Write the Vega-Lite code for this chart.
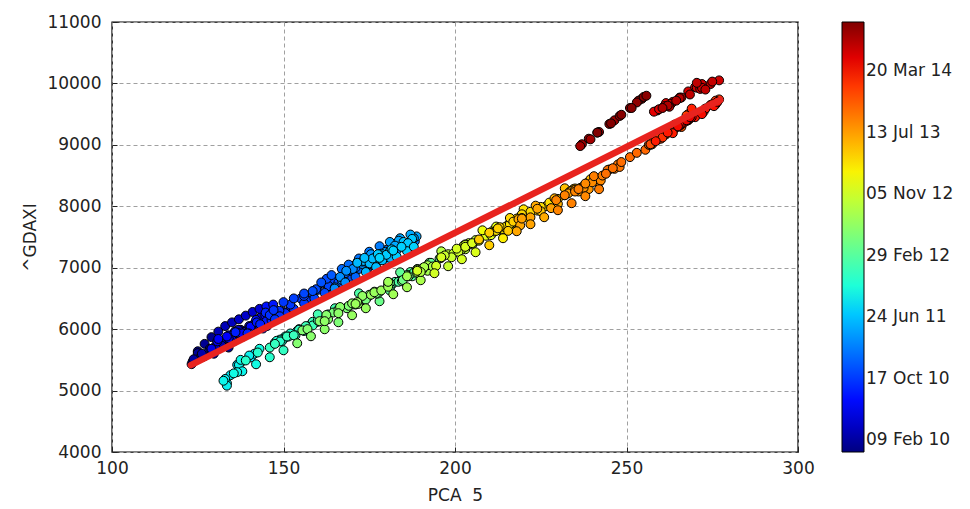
{
  "$schema": "https://vega.github.io/schema/vega-lite/v6.json",
  "width": 686,
  "height": 430,
  "autosize": {"type": "none"},
  "padding": {"left": 112, "top": 22, "right": 172, "bottom": 57},
  "background": "white",
  "config": {
    "font": "DejaVu Sans",
    "view": {"stroke": "black", "strokeWidth": 1.4},
    "axis": {
      "domain": false,
      "grid": true,
      "gridColor": "#a0a0a0",
      "gridDash": [4, 3],
      "gridWidth": 1,
      "ticks": true,
      "tickSize": -5,
      "tickColor": "#222",
      "tickWidth": 1,
      "labelFont": "DejaVu Sans",
      "labelFontSize": 17,
      "labelColor": "#222",
      "titleFont": "DejaVu Sans",
      "titleFontSize": 17,
      "titleFontWeight": "normal",
      "titleColor": "#222",
      "labelOverlap": false,
      "labelFlush": false
    },
    "legend": {
      "orient": "right",
      "offset": 44,
      "padding": 0,
      "direction": "vertical",
      "gradientLength": 430,
      "gradientThickness": 22,
      "gradientStrokeColor": "black",
      "gradientStrokeWidth": 1,
      "labelFont": "DejaVu Sans",
      "labelFontSize": 17,
      "labelColor": "#222",
      "labelOffset": 6,
      "labelOverlap": false
    }
  },
  "layer": [
    {
      "data": {
        "format": {"parse": {"d": "date"}},
        "values": [
          {"d": "2009-12-25", "x": 140.8, "y": 5960}, {"d": "2009-12-29", "x": 137.5, "y": 5990},
          {"d": "2010-01-01", "x": 135.8, "y": 5960}, {"d": "2010-01-05", "x": 141, "y": 6010},
          {"d": "2010-01-08", "x": 142.4, "y": 6040}, {"d": "2010-01-12", "x": 138.5, "y": 5960},
          {"d": "2010-01-15", "x": 134.8, "y": 5880}, {"d": "2010-01-19", "x": 135.5, "y": 5800},
          {"d": "2010-01-22", "x": 134, "y": 5700}, {"d": "2010-01-26", "x": 128.5, "y": 5680},
          {"d": "2010-01-29", "x": 125, "y": 5610}, {"d": "2010-02-02", "x": 126.5, "y": 5550},
          {"d": "2010-02-05", "x": 123.2, "y": 5430}, {"d": "2010-02-09", "x": 123.5, "y": 5470},
          {"d": "2010-02-12", "x": 123.8, "y": 5510}, {"d": "2010-02-16", "x": 127, "y": 5560},
          {"d": "2010-02-19", "x": 129.7, "y": 5600}, {"d": "2010-02-23", "x": 128, "y": 5620},
          {"d": "2010-02-26", "x": 126.2, "y": 5600}, {"d": "2010-03-02", "x": 133, "y": 5780},
          {"d": "2010-03-05", "x": 138.3, "y": 5880}, {"d": "2010-03-09", "x": 134, "y": 5900},
          {"d": "2010-03-12", "x": 136.8, "y": 5990}, {"d": "2010-03-16", "x": 139, "y": 5960},
          {"d": "2010-03-19", "x": 141.8, "y": 6020}, {"d": "2010-03-23", "x": 140, "y": 6050},
          {"d": "2010-03-26", "x": 142.5, "y": 6120}, {"d": "2010-03-30", "x": 146, "y": 6160},
          {"d": "2010-04-02", "x": 150.5, "y": 6230}, {"d": "2010-04-06", "x": 149, "y": 6200},
          {"d": "2010-04-09", "x": 145.7, "y": 6250}, {"d": "2010-04-13", "x": 147.5, "y": 6270},
          {"d": "2010-04-16", "x": 146.4, "y": 6180}, {"d": "2010-04-20", "x": 143.5, "y": 6200},
          {"d": "2010-04-23", "x": 146.8, "y": 6330}, {"d": "2010-04-27", "x": 148, "y": 6170},
          {"d": "2010-04-30", "x": 147.1, "y": 6140}, {"d": "2010-05-04", "x": 139, "y": 5960},
          {"d": "2010-05-07", "x": 130.1, "y": 5720}, {"d": "2010-05-11", "x": 136.5, "y": 5930},
          {"d": "2010-05-14", "x": 140.5, "y": 5950}, {"d": "2010-05-18", "x": 135, "y": 5860},
          {"d": "2010-05-21", "x": 130.7, "y": 5800}, {"d": "2010-05-25", "x": 129, "y": 5680},
          {"d": "2010-05-28", "x": 139.8, "y": 5960}, {"d": "2010-06-01", "x": 134.5, "y": 5800},
          {"d": "2010-06-04", "x": 136.7, "y": 5940}, {"d": "2010-06-08", "x": 134, "y": 5850},
          {"d": "2010-06-11", "x": 145.2, "y": 6050}, {"d": "2010-06-15", "x": 145.5, "y": 6150},
          {"d": "2010-06-18", "x": 144.7, "y": 6220}, {"d": "2010-06-22", "x": 146, "y": 6180},
          {"d": "2010-06-25", "x": 140.3, "y": 5990}, {"d": "2010-06-29", "x": 133.5, "y": 5880},
          {"d": "2010-07-02", "x": 131, "y": 5840}, {"d": "2010-07-06", "x": 138, "y": 5930},
          {"d": "2010-07-09", "x": 144.5, "y": 6060}, {"d": "2010-07-13", "x": 141.5, "y": 6090},
          {"d": "2010-07-16", "x": 140.4, "y": 6040}, {"d": "2010-07-20", "x": 143, "y": 6060},
          {"d": "2010-07-23", "x": 148.6, "y": 6200}, {"d": "2010-07-27", "x": 146, "y": 6190},
          {"d": "2010-07-30", "x": 142, "y": 6150}, {"d": "2010-08-03", "x": 150, "y": 6280},
          {"d": "2010-08-06", "x": 152.1, "y": 6340}, {"d": "2010-08-10", "x": 147, "y": 6190},
          {"d": "2010-08-13", "x": 142.2, "y": 6110}, {"d": "2010-08-17", "x": 145, "y": 6130},
          {"d": "2010-08-20", "x": 144, "y": 6010}, {"d": "2010-08-24", "x": 140, "y": 5930},
          {"d": "2010-08-27", "x": 136, "y": 5950}, {"d": "2010-08-31", "x": 139.5, "y": 5930},
          {"d": "2010-09-03", "x": 143.2, "y": 6080}, {"d": "2010-09-07", "x": 146.5, "y": 6150},
          {"d": "2010-09-10", "x": 144.8, "y": 6270}, {"d": "2010-09-14", "x": 149, "y": 6280},
          {"d": "2010-09-17", "x": 149.4, "y": 6210}, {"d": "2010-09-21", "x": 150.5, "y": 6260},
          {"d": "2010-09-24", "x": 148.8, "y": 6300}, {"d": "2010-09-28", "x": 146, "y": 6230},
          {"d": "2010-10-01", "x": 148.9, "y": 6210}, {"d": "2010-10-05", "x": 147.5, "y": 6160},
          {"d": "2010-10-08", "x": 147.1, "y": 6310}, {"d": "2010-10-12", "x": 152, "y": 6400},
          {"d": "2010-10-15", "x": 156.6, "y": 6480}, {"d": "2010-10-19", "x": 155, "y": 6500},
          {"d": "2010-10-22", "x": 156, "y": 6540}, {"d": "2010-10-26", "x": 158.5, "y": 6580},
          {"d": "2010-10-29", "x": 163, "y": 6600}, {"d": "2010-11-02", "x": 160, "y": 6640},
          {"d": "2010-11-05", "x": 161.8, "y": 6750}, {"d": "2010-11-09", "x": 164.5, "y": 6780},
          {"d": "2010-11-12", "x": 163.2, "y": 6700}, {"d": "2010-11-16", "x": 159.5, "y": 6650},
          {"d": "2010-11-19", "x": 162.6, "y": 6820}, {"d": "2010-11-23", "x": 166, "y": 6760},
          {"d": "2010-11-26", "x": 170, "y": 6850}, {"d": "2010-11-30", "x": 166.5, "y": 6690},
          {"d": "2010-12-03", "x": 169.8, "y": 6950}, {"d": "2010-12-07", "x": 171.5, "y": 6980},
          {"d": "2010-12-10", "x": 174.7, "y": 7010}, {"d": "2010-12-14", "x": 172, "y": 7040},
          {"d": "2010-12-17", "x": 170.4, "y": 7030}, {"d": "2010-12-21", "x": 174, "y": 7060},
          {"d": "2010-12-24", "x": 173.4, "y": 7000}, {"d": "2010-12-28", "x": 169, "y": 6950},
          {"d": "2010-12-31", "x": 168, "y": 6910}, {"d": "2011-01-04", "x": 172, "y": 6980},
          {"d": "2011-01-07", "x": 174.3, "y": 6950}, {"d": "2011-01-11", "x": 171, "y": 7000},
          {"d": "2011-01-14", "x": 172.5, "y": 7080}, {"d": "2011-01-18", "x": 176.5, "y": 7100},
          {"d": "2011-01-21", "x": 174.8, "y": 7060}, {"d": "2011-01-25", "x": 177, "y": 7070},
          {"d": "2011-01-28", "x": 171.6, "y": 7100}, {"d": "2011-02-01", "x": 176, "y": 7170},
          {"d": "2011-02-04", "x": 182, "y": 7220}, {"d": "2011-02-08", "x": 180, "y": 7290},
          {"d": "2011-02-11", "x": 183.3, "y": 7370}, {"d": "2011-02-15", "x": 186, "y": 7400},
          {"d": "2011-02-18", "x": 188.3, "y": 7430}, {"d": "2011-02-22", "x": 183, "y": 7280},
          {"d": "2011-02-25", "x": 175.2, "y": 7180}, {"d": "2011-03-01", "x": 180, "y": 7240},
          {"d": "2011-03-04", "x": 178.9, "y": 7170}, {"d": "2011-03-08", "x": 176, "y": 7130},
          {"d": "2011-03-11", "x": 170.2, "y": 6980}, {"d": "2011-03-15", "x": 167, "y": 6800},
          {"d": "2011-03-18", "x": 164.9, "y": 6660}, {"d": "2011-03-22", "x": 166.5, "y": 6850},
          {"d": "2011-03-25", "x": 168.3, "y": 6950}, {"d": "2011-03-29", "x": 173, "y": 7060},
          {"d": "2011-04-01", "x": 178.7, "y": 7180}, {"d": "2011-04-05", "x": 181.5, "y": 7240},
          {"d": "2011-04-08", "x": 175.5, "y": 7220}, {"d": "2011-04-12", "x": 173, "y": 7100},
          {"d": "2011-04-15", "x": 176.5, "y": 7050}, {"d": "2011-04-19", "x": 174.5, "y": 7080},
          {"d": "2011-04-22", "x": 179.8, "y": 7260}, {"d": "2011-04-26", "x": 184, "y": 7390},
          {"d": "2011-04-29", "x": 188.8, "y": 7510}, {"d": "2011-05-03", "x": 188, "y": 7480},
          {"d": "2011-05-06", "x": 183.6, "y": 7440}, {"d": "2011-05-10", "x": 182.5, "y": 7360},
          {"d": "2011-05-13", "x": 187, "y": 7420}, {"d": "2011-05-17", "x": 181, "y": 7270},
          {"d": "2011-05-20", "x": 177.3, "y": 7200}, {"d": "2011-05-24", "x": 176, "y": 7120},
          {"d": "2011-05-27", "x": 181.1, "y": 7160}, {"d": "2011-05-31", "x": 178.5, "y": 7230},
          {"d": "2011-06-03", "x": 173.4, "y": 7110}, {"d": "2011-06-07", "x": 171.5, "y": 7080},
          {"d": "2011-06-10", "x": 175.1, "y": 7070}, {"d": "2011-06-14", "x": 176, "y": 7150},
          {"d": "2011-06-17", "x": 173.6, "y": 7160}, {"d": "2011-06-21", "x": 178, "y": 7220},
          {"d": "2011-06-24", "x": 178.8, "y": 7120}, {"d": "2011-06-28", "x": 182, "y": 7280},
          {"d": "2011-07-01", "x": 185, "y": 7420}, {"d": "2011-07-05", "x": 187.5, "y": 7470},
          {"d": "2011-07-08", "x": 186.3, "y": 7400}, {"d": "2011-07-12", "x": 180, "y": 7210},
          {"d": "2011-07-15", "x": 177.5, "y": 7220}, {"d": "2011-07-19", "x": 181.5, "y": 7300},
          {"d": "2011-07-22", "x": 184.4, "y": 7340}, {"d": "2011-07-26", "x": 182, "y": 7280},
          {"d": "2011-07-29", "x": 178, "y": 7160}, {"d": "2011-08-02", "x": 184.5, "y": 6880},
          {"d": "2011-08-05", "x": 163, "y": 6240}, {"d": "2011-08-08", "x": 159, "y": 6100},
          {"d": "2011-08-12", "x": 154.5, "y": 6000}, {"d": "2011-08-16", "x": 150, "y": 5850},
          {"d": "2011-08-19", "x": 138, "y": 5480}, {"d": "2011-08-23", "x": 136.5, "y": 5420},
          {"d": "2011-08-26", "x": 140.5, "y": 5540}, {"d": "2011-08-30", "x": 141.5, "y": 5600},
          {"d": "2011-09-02", "x": 134.5, "y": 5250}, {"d": "2011-09-06", "x": 133.5, "y": 5120},
          {"d": "2011-09-09", "x": 133, "y": 5190}, {"d": "2011-09-12", "x": 133.5, "y": 5080},
          {"d": "2011-09-16", "x": 140, "y": 5570}, {"d": "2011-09-20", "x": 137, "y": 5420},
          {"d": "2011-09-23", "x": 132.5, "y": 5160}, {"d": "2011-09-26", "x": 136.5, "y": 5300},
          {"d": "2011-09-30", "x": 137.5, "y": 5500}, {"d": "2011-10-04", "x": 135.5, "y": 5280},
          {"d": "2011-10-07", "x": 143, "y": 5680}, {"d": "2011-10-11", "x": 147.5, "y": 5780},
          {"d": "2011-10-14", "x": 150.5, "y": 5880}, {"d": "2011-10-18", "x": 150, "y": 5840},
          {"d": "2011-10-21", "x": 154, "y": 5970}, {"d": "2011-10-25", "x": 160, "y": 6120},
          {"d": "2011-10-28", "x": 168.5, "y": 6350}, {"d": "2011-11-01", "x": 149, "y": 5830},
          {"d": "2011-11-04", "x": 148, "y": 5810}, {"d": "2011-11-08", "x": 156, "y": 5970},
          {"d": "2011-11-11", "x": 156.5, "y": 5990}, {"d": "2011-11-15", "x": 152, "y": 5930},
          {"d": "2011-11-18", "x": 149.5, "y": 5800}, {"d": "2011-11-22", "x": 142.5, "y": 5620},
          {"d": "2011-11-25", "x": 139, "y": 5490}, {"d": "2011-11-29", "x": 149, "y": 5800},
          {"d": "2011-12-02", "x": 158, "y": 6080}, {"d": "2011-12-06", "x": 158.5, "y": 6100},
          {"d": "2011-12-09", "x": 154.5, "y": 5990}, {"d": "2011-12-13", "x": 151.5, "y": 5880},
          {"d": "2011-12-16", "x": 146, "y": 5700}, {"d": "2011-12-20", "x": 147.5, "y": 5760},
          {"d": "2011-12-23", "x": 151, "y": 5880}, {"d": "2011-12-27", "x": 153.5, "y": 5900},
          {"d": "2011-12-30", "x": 153, "y": 5900}, {"d": "2012-01-03", "x": 158.5, "y": 6120},
          {"d": "2012-01-06", "x": 158.5, "y": 6060}, {"d": "2012-01-10", "x": 156.5, "y": 6050},
          {"d": "2012-01-13", "x": 160, "y": 6140}, {"d": "2012-01-17", "x": 165, "y": 6340},
          {"d": "2012-01-20", "x": 171, "y": 6400}, {"d": "2012-01-24", "x": 171.5, "y": 6420},
          {"d": "2012-01-27", "x": 173, "y": 6510}, {"d": "2012-01-31", "x": 176.5, "y": 6610},
          {"d": "2012-02-03", "x": 182.5, "y": 6770}, {"d": "2012-02-07", "x": 181.5, "y": 6720},
          {"d": "2012-02-10", "x": 181, "y": 6690}, {"d": "2012-02-14", "x": 183.5, "y": 6770},
          {"d": "2012-02-17", "x": 185, "y": 6850}, {"d": "2012-02-21", "x": 187, "y": 6930},
          {"d": "2012-02-24", "x": 187.5, "y": 6860}, {"d": "2012-02-28", "x": 186.5, "y": 6880},
          {"d": "2012-03-02", "x": 188, "y": 6920}, {"d": "2012-03-06", "x": 181, "y": 6630},
          {"d": "2012-03-09", "x": 186, "y": 6880}, {"d": "2012-03-13", "x": 189, "y": 6980},
          {"d": "2012-03-16", "x": 195.5, "y": 7150}, {"d": "2012-03-20", "x": 192.5, "y": 7080},
          {"d": "2012-03-23", "x": 192, "y": 6990}, {"d": "2012-03-27", "x": 193, "y": 7080},
          {"d": "2012-03-30", "x": 189, "y": 6950}, {"d": "2012-04-03", "x": 190.5, "y": 6990},
          {"d": "2012-04-06", "x": 184.5, "y": 6780}, {"d": "2012-04-10", "x": 178, "y": 6610},
          {"d": "2012-04-13", "x": 177.5, "y": 6580}, {"d": "2012-04-17", "x": 180.5, "y": 6730},
          {"d": "2012-04-20", "x": 181, "y": 6750}, {"d": "2012-04-24", "x": 174.5, "y": 6520},
          {"d": "2012-04-27", "x": 184.8, "y": 6800}, {"d": "2012-05-01", "x": 186.5, "y": 6860},
          {"d": "2012-05-04", "x": 175, "y": 6560}, {"d": "2012-05-08", "x": 174, "y": 6480},
          {"d": "2012-05-11", "x": 177, "y": 6580}, {"d": "2012-05-15", "x": 170, "y": 6400},
          {"d": "2012-05-18", "x": 164.5, "y": 6270}, {"d": "2012-05-22", "x": 166, "y": 6320},
          {"d": "2012-05-25", "x": 168.5, "y": 6340}, {"d": "2012-05-29", "x": 169, "y": 6380},
          {"d": "2012-06-01", "x": 155.5, "y": 5980}, {"d": "2012-06-05", "x": 157, "y": 6000},
          {"d": "2012-06-08", "x": 160.5, "y": 6130}, {"d": "2012-06-12", "x": 163, "y": 6160},
          {"d": "2012-06-15", "x": 162.5, "y": 6230}, {"d": "2012-06-19", "x": 166.5, "y": 6360},
          {"d": "2012-06-22", "x": 166, "y": 6260}, {"d": "2012-06-26", "x": 162, "y": 6130},
          {"d": "2012-06-29", "x": 170, "y": 6420}, {"d": "2012-07-03", "x": 173, "y": 6540},
          {"d": "2012-07-06", "x": 171.8, "y": 6410}, {"d": "2012-07-10", "x": 171.5, "y": 6440},
          {"d": "2012-07-13", "x": 175.5, "y": 6560}, {"d": "2012-07-17", "x": 176.5, "y": 6600},
          {"d": "2012-07-20", "x": 178.5, "y": 6630}, {"d": "2012-07-24", "x": 171, "y": 6410},
          {"d": "2012-07-27", "x": 180.5, "y": 6690}, {"d": "2012-07-31", "x": 180.5, "y": 6770},
          {"d": "2012-08-03", "x": 186, "y": 6860}, {"d": "2012-08-07", "x": 189, "y": 6920},
          {"d": "2012-08-10", "x": 189.5, "y": 6950}, {"d": "2012-08-14", "x": 192, "y": 6950},
          {"d": "2012-08-17", "x": 192, "y": 7040}, {"d": "2012-08-21", "x": 193.5, "y": 7020},
          {"d": "2012-08-24", "x": 190.5, "y": 6970}, {"d": "2012-08-28", "x": 191, "y": 7010},
          {"d": "2012-08-31", "x": 189, "y": 6970}, {"d": "2012-09-04", "x": 190, "y": 6930},
          {"d": "2012-09-07", "x": 198.5, "y": 7210}, {"d": "2012-09-11", "x": 199, "y": 7190},
          {"d": "2012-09-14", "x": 205.5, "y": 7410}, {"d": "2012-09-18", "x": 205, "y": 7380},
          {"d": "2012-09-21", "x": 206, "y": 7450}, {"d": "2012-09-25", "x": 203, "y": 7300},
          {"d": "2012-09-28", "x": 198, "y": 7220}, {"d": "2012-10-02", "x": 202, "y": 7300},
          {"d": "2012-10-05", "x": 204, "y": 7400}, {"d": "2012-10-09", "x": 201, "y": 7290},
          {"d": "2012-10-12", "x": 199.5, "y": 7230}, {"d": "2012-10-16", "x": 203.5, "y": 7360},
          {"d": "2012-10-19", "x": 203, "y": 7380}, {"d": "2012-10-23", "x": 199, "y": 7170},
          {"d": "2012-10-26", "x": 197, "y": 7200}, {"d": "2012-10-30", "x": 201, "y": 7260},
          {"d": "2012-11-02", "x": 202.5, "y": 7360}, {"d": "2012-11-06", "x": 203, "y": 7370},
          {"d": "2012-11-09", "x": 196, "y": 7160}, {"d": "2012-11-13", "x": 194.5, "y": 7030},
          {"d": "2012-11-16", "x": 189, "y": 6950}, {"d": "2012-11-20", "x": 196, "y": 7170},
          {"d": "2012-11-23", "x": 200.5, "y": 7310}, {"d": "2012-11-27", "x": 203, "y": 7340},
          {"d": "2012-11-30", "x": 205, "y": 7400}, {"d": "2012-12-04", "x": 207, "y": 7440},
          {"d": "2012-12-07", "x": 209, "y": 7520}, {"d": "2012-12-11", "x": 210.5, "y": 7530},
          {"d": "2012-12-14", "x": 211, "y": 7600}, {"d": "2012-12-18", "x": 212, "y": 7670},
          {"d": "2012-12-21", "x": 214, "y": 7650}, {"d": "2012-12-28", "x": 212.5, "y": 7610},
          {"d": "2013-01-02", "x": 217.5, "y": 7760}, {"d": "2013-01-04", "x": 218.5, "y": 7780},
          {"d": "2013-01-08", "x": 217, "y": 7700}, {"d": "2013-01-11", "x": 216, "y": 7720},
          {"d": "2013-01-15", "x": 216.5, "y": 7670}, {"d": "2013-01-18", "x": 215.5, "y": 7700},
          {"d": "2013-01-22", "x": 218, "y": 7720}, {"d": "2013-01-25", "x": 220.5, "y": 7850},
          {"d": "2013-01-29", "x": 221.5, "y": 7800}, {"d": "2013-02-01", "x": 219, "y": 7830},
          {"d": "2013-02-05", "x": 215, "y": 7640}, {"d": "2013-02-08", "x": 213.5, "y": 7650},
          {"d": "2013-02-12", "x": 214, "y": 7630}, {"d": "2013-02-15", "x": 211.5, "y": 7590},
          {"d": "2013-02-19", "x": 217, "y": 7730}, {"d": "2013-02-22", "x": 214.5, "y": 7660},
          {"d": "2013-02-26", "x": 212, "y": 7600}, {"d": "2013-03-01", "x": 216, "y": 7710},
          {"d": "2013-03-05", "x": 222, "y": 7900}, {"d": "2013-03-08", "x": 226.5, "y": 8000},
          {"d": "2013-03-12", "x": 225, "y": 7990}, {"d": "2013-03-15", "x": 227.5, "y": 8060},
          {"d": "2013-03-19", "x": 224, "y": 7930}, {"d": "2013-03-22", "x": 222, "y": 7910},
          {"d": "2013-03-26", "x": 219.5, "y": 7870}, {"d": "2013-03-29", "x": 218, "y": 7800},
          {"d": "2013-04-02", "x": 216, "y": 7810}, {"d": "2013-04-05", "x": 213, "y": 7660},
          {"d": "2013-04-09", "x": 212.5, "y": 7640}, {"d": "2013-04-12", "x": 217, "y": 7750},
          {"d": "2013-04-16", "x": 210, "y": 7570}, {"d": "2013-04-19", "x": 207, "y": 7460},
          {"d": "2013-04-23", "x": 215.5, "y": 7600}, {"d": "2013-04-26", "x": 219.5, "y": 7810},
          {"d": "2013-04-30", "x": 225, "y": 7920}, {"d": "2013-05-03", "x": 230, "y": 8120},
          {"d": "2013-05-07", "x": 232, "y": 8180}, {"d": "2013-05-10", "x": 234.5, "y": 8280},
          {"d": "2013-05-14", "x": 235, "y": 8290}, {"d": "2013-05-17", "x": 239, "y": 8400},
          {"d": "2013-05-21", "x": 238.5, "y": 8370}, {"d": "2013-05-24", "x": 236.5, "y": 8300},
          {"d": "2013-05-28", "x": 239.5, "y": 8440}, {"d": "2013-05-31", "x": 238, "y": 8350},
          {"d": "2013-06-04", "x": 233.5, "y": 8240}, {"d": "2013-06-07", "x": 234, "y": 8250},
          {"d": "2013-06-11", "x": 230, "y": 8040}, {"d": "2013-06-14", "x": 229, "y": 8130},
          {"d": "2013-06-18", "x": 223.5, "y": 8010}, {"d": "2013-06-21", "x": 218.5, "y": 7790},
          {"d": "2013-06-25", "x": 219, "y": 7690}, {"d": "2013-06-28", "x": 224, "y": 7960},
          {"d": "2013-07-02", "x": 222, "y": 7820}, {"d": "2013-07-05", "x": 219.5, "y": 7800},
          {"d": "2013-07-09", "x": 228, "y": 7970}, {"d": "2013-07-12", "x": 233, "y": 8210},
          {"d": "2013-07-16", "x": 236, "y": 8240}, {"d": "2013-07-19", "x": 237.5, "y": 8330},
          {"d": "2013-07-23", "x": 238, "y": 8290}, {"d": "2013-07-26", "x": 235, "y": 8270},
          {"d": "2013-07-30", "x": 239, "y": 8280}, {"d": "2013-08-02", "x": 240.5, "y": 8410},
          {"d": "2013-08-06", "x": 237.5, "y": 8300}, {"d": "2013-08-09", "x": 241.5, "y": 8420},
          {"d": "2013-08-13", "x": 242, "y": 8390}, {"d": "2013-08-16", "x": 240, "y": 8390},
          {"d": "2013-08-20", "x": 238, "y": 8370}, {"d": "2013-08-23", "x": 242.5, "y": 8420},
          {"d": "2013-08-27", "x": 235, "y": 8240}, {"d": "2013-08-30", "x": 229.5, "y": 8100},
          {"d": "2013-09-03", "x": 232, "y": 8180}, {"d": "2013-09-06", "x": 236, "y": 8280},
          {"d": "2013-09-10", "x": 240.5, "y": 8490}, {"d": "2013-09-13", "x": 243, "y": 8500},
          {"d": "2013-09-17", "x": 246.5, "y": 8610}, {"d": "2013-09-20", "x": 247.5, "y": 8680},
          {"d": "2013-09-24", "x": 248, "y": 8640}, {"d": "2013-09-27", "x": 245, "y": 8600},
          {"d": "2013-10-01", "x": 244.5, "y": 8590}, {"d": "2013-10-04", "x": 246, "y": 8620},
          {"d": "2013-10-08", "x": 244, "y": 8530}, {"d": "2013-10-11", "x": 248.5, "y": 8720},
          {"d": "2013-10-15", "x": 251, "y": 8800}, {"d": "2013-10-18", "x": 253, "y": 8870},
          {"d": "2013-10-22", "x": 255.5, "y": 8920}, {"d": "2013-10-25", "x": 256.5, "y": 9000},
          {"d": "2013-10-29", "x": 257.5, "y": 9010}, {"d": "2013-11-01", "x": 257, "y": 9000},
          {"d": "2013-11-05", "x": 258, "y": 9060}, {"d": "2013-11-08", "x": 259, "y": 9080},
          {"d": "2013-11-12", "x": 257.5, "y": 9040}, {"d": "2013-11-15", "x": 261.5, "y": 9170},
          {"d": "2013-11-19", "x": 262, "y": 9220}, {"d": "2013-11-22", "x": 263, "y": 9220},
          {"d": "2013-11-26", "x": 266, "y": 9290}, {"d": "2013-11-29", "x": 268, "y": 9400},
          {"d": "2013-12-03", "x": 264, "y": 9260}, {"d": "2013-12-06", "x": 261, "y": 9170},
          {"d": "2013-12-10", "x": 260, "y": 9100}, {"d": "2013-12-13", "x": 257, "y": 9010},
          {"d": "2013-12-17", "x": 258.5, "y": 9150}, {"d": "2013-12-20", "x": 267.5, "y": 9400},
          {"d": "2013-12-23", "x": 268, "y": 9500}, {"d": "2013-12-27", "x": 273, "y": 9590},
          {"d": "2014-01-03", "x": 268.5, "y": 9430}, {"d": "2014-01-07", "x": 267.5, "y": 9480},
          {"d": "2014-01-10", "x": 270, "y": 9470}, {"d": "2014-01-14", "x": 272.5, "y": 9540},
          {"d": "2014-01-17", "x": 277, "y": 9740}, {"d": "2014-01-21", "x": 276, "y": 9720},
          {"d": "2014-01-24", "x": 267.5, "y": 9390}, {"d": "2014-01-28", "x": 264, "y": 9330},
          {"d": "2014-01-31", "x": 265.5, "y": 9310}, {"d": "2014-02-04", "x": 260.5, "y": 9120},
          {"d": "2014-02-07", "x": 264.5, "y": 9290}, {"d": "2014-02-11", "x": 270, "y": 9480},
          {"d": "2014-02-14", "x": 275.5, "y": 9660}, {"d": "2014-02-18", "x": 274.5, "y": 9650},
          {"d": "2014-02-21", "x": 275, "y": 9660}, {"d": "2014-02-25", "x": 276, "y": 9660},
          {"d": "2014-02-28", "x": 276.3, "y": 9690}, {"d": "2014-03-04", "x": 269, "y": 9590},
          {"d": "2014-03-07", "x": 266.5, "y": 9350}, {"d": "2014-03-11", "x": 263.5, "y": 9190},
          {"d": "2014-03-14", "x": 258.5, "y": 9060}, {"d": "2014-03-18", "x": 262, "y": 9200},
          {"d": "2014-03-21", "x": 266, "y": 9340}, {"d": "2014-03-25", "x": 270, "y": 9450},
          {"d": "2014-03-28", "x": 273, "y": 9590}, {"d": "2014-04-01", "x": 275.5, "y": 9630},
          {"d": "2014-04-04", "x": 276.5, "y": 9700}, {"d": "2014-04-08", "x": 272, "y": 9500},
          {"d": "2014-04-11", "x": 265.5, "y": 9320}, {"d": "2014-04-15", "x": 265, "y": 9300},
          {"d": "2014-04-18", "x": 268, "y": 9410}, {"d": "2014-04-22", "x": 269, "y": 9450},
          {"d": "2014-04-25", "x": 267.5, "y": 9400}, {"d": "2014-04-29", "x": 268.5, "y": 9450},
          {"d": "2014-05-02", "x": 259, "y": 9560}, {"d": "2014-05-06", "x": 258, "y": 9540},
          {"d": "2014-05-09", "x": 259.5, "y": 9580}, {"d": "2014-05-13", "x": 261.5, "y": 9680},
          {"d": "2014-05-16", "x": 261, "y": 9630}, {"d": "2014-05-20", "x": 263.5, "y": 9700},
          {"d": "2014-05-23", "x": 265.5, "y": 9770}, {"d": "2014-05-27", "x": 268, "y": 9870},
          {"d": "2014-05-30", "x": 270, "y": 9940}, {"d": "2014-06-03", "x": 270.5, "y": 9930},
          {"d": "2014-06-06", "x": 272, "y": 9990}, {"d": "2014-06-10", "x": 277, "y": 10050},
          {"d": "2014-06-13", "x": 271.5, "y": 9910}, {"d": "2014-06-17", "x": 272, "y": 9930},
          {"d": "2014-06-20", "x": 274.5, "y": 9990}, {"d": "2014-06-24", "x": 275, "y": 10030},
          {"d": "2014-06-27", "x": 268.5, "y": 9820}, {"d": "2014-07-01", "x": 273, "y": 9900},
          {"d": "2014-07-04", "x": 270.5, "y": 10010}, {"d": "2014-07-08", "x": 266, "y": 9770},
          {"d": "2014-07-11", "x": 263, "y": 9670}, {"d": "2014-07-15", "x": 265.5, "y": 9760},
          {"d": "2014-07-18", "x": 264.5, "y": 9720}, {"d": "2014-07-22", "x": 262.5, "y": 9620},
          {"d": "2014-07-25", "x": 262, "y": 9640}, {"d": "2014-07-29", "x": 260.5, "y": 9600},
          {"d": "2014-08-01", "x": 242, "y": 9210}, {"d": "2014-08-05", "x": 239, "y": 9100},
          {"d": "2014-08-08", "x": 237, "y": 9010}, {"d": "2014-08-12", "x": 236.5, "y": 8980},
          {"d": "2014-08-15", "x": 239.5, "y": 9090}, {"d": "2014-08-19", "x": 241.5, "y": 9200},
          {"d": "2014-08-22", "x": 245, "y": 9340}, {"d": "2014-08-26", "x": 246.5, "y": 9400},
          {"d": "2014-08-29", "x": 248, "y": 9470}, {"d": "2014-09-02", "x": 251, "y": 9600},
          {"d": "2014-09-05", "x": 254.5, "y": 9750}, {"d": "2014-09-09", "x": 253.5, "y": 9720},
          {"d": "2014-09-12", "x": 253, "y": 9690}, {"d": "2014-09-16", "x": 255, "y": 9780},
          {"d": "2014-09-19", "x": 255.8, "y": 9800}, {"d": "2014-09-23", "x": 251.5, "y": 9600},
          {"d": "2014-09-26", "x": 248.5, "y": 9490}, {"d": "2014-09-30", "x": 245.5, "y": 9350},
          {"d": "2014-10-03", "x": 241.5, "y": 9200},
          {"d": "2010-01-27", "x": 125, "y": 5640}, {"d": "2010-01-20", "x": 127, "y": 5760},
          {"d": "2010-01-13", "x": 129, "y": 5870}, {"d": "2010-03-10", "x": 131, "y": 5960},
          {"d": "2010-03-17", "x": 133, "y": 6050}, {"d": "2010-03-24", "x": 135, "y": 6110},
          {"d": "2010-04-07", "x": 137, "y": 6160}, {"d": "2010-04-14", "x": 139, "y": 6220},
          {"d": "2010-04-21", "x": 141, "y": 6280}, {"d": "2010-04-28", "x": 143, "y": 6330},
          {"d": "2010-08-04", "x": 145, "y": 6370}, {"d": "2010-08-11", "x": 147, "y": 6400},
          {"d": "2010-10-13", "x": 150, "y": 6440}, {"d": "2010-10-27", "x": 153, "y": 6500},
          {"d": "2010-11-10", "x": 156, "y": 6580}, {"d": "2010-11-24", "x": 158.5, "y": 6620},
          {"d": "2010-12-01", "x": 161, "y": 6760}, {"d": "2010-12-15", "x": 164, "y": 6880},
          {"d": "2011-01-12", "x": 167, "y": 6980}, {"d": "2011-01-19", "x": 169, "y": 7050},
          {"d": "2011-02-02", "x": 172, "y": 7150}, {"d": "2011-02-09", "x": 175, "y": 7260},
          {"d": "2011-02-16", "x": 178, "y": 7350}, {"d": "2011-04-27", "x": 181, "y": 7420},
          {"d": "2011-05-04", "x": 184, "y": 7480}, {"d": "2011-05-11", "x": 187, "y": 7540},
          {"d": "2010-02-03", "x": 126, "y": 5560}, {"d": "2010-02-24", "x": 129, "y": 5650},
          {"d": "2010-03-03", "x": 132, "y": 5730}, {"d": "2010-05-19", "x": 135, "y": 5820},
          {"d": "2010-05-26", "x": 138, "y": 5900}, {"d": "2010-06-02", "x": 141, "y": 5980},
          {"d": "2010-07-07", "x": 144, "y": 6060}, {"d": "2010-08-25", "x": 147, "y": 6140},
          {"d": "2010-09-01", "x": 150, "y": 6230}, {"d": "2010-10-06", "x": 153, "y": 6330},
          {"d": "2010-10-20", "x": 156, "y": 6420}, {"d": "2010-11-03", "x": 159, "y": 6500},
          {"d": "2010-11-17", "x": 162, "y": 6590}, {"d": "2011-03-16", "x": 165, "y": 6680},
          {"d": "2011-03-23", "x": 168, "y": 6760}, {"d": "2011-01-05", "x": 171, "y": 6850},
          {"d": "2011-06-08", "x": 174, "y": 6930}, {"d": "2011-06-15", "x": 177, "y": 7010},
          {"d": "2011-05-25", "x": 180, "y": 7090}, {"d": "2011-07-13", "x": 183, "y": 7180},
          {"d": "2011-07-20", "x": 186, "y": 7270}, {"d": "2011-07-27", "x": 188, "y": 7340},
          {"d": "2011-09-21", "x": 138, "y": 5314}, {"d": "2011-10-05", "x": 142, "y": 5428},
          {"d": "2011-11-23", "x": 146, "y": 5542}, {"d": "2011-12-14", "x": 150, "y": 5656},
          {"d": "2012-06-06", "x": 154, "y": 5770}, {"d": "2012-06-13", "x": 158, "y": 5884},
          {"d": "2012-06-20", "x": 162, "y": 5998}, {"d": "2012-05-23", "x": 166, "y": 6112},
          {"d": "2012-07-11", "x": 170, "y": 6226}, {"d": "2012-07-18", "x": 174, "y": 6340},
          {"d": "2012-04-11", "x": 178, "y": 6454}, {"d": "2012-08-01", "x": 182, "y": 6568},
          {"d": "2012-08-08", "x": 186, "y": 6682}, {"d": "2012-08-22", "x": 190, "y": 6796},
          {"d": "2012-11-14", "x": 194, "y": 6910}, {"d": "2012-10-24", "x": 198, "y": 7024},
          {"d": "2012-11-21", "x": 202, "y": 7138}, {"d": "2012-12-05", "x": 206, "y": 7252},
          {"d": "2013-04-17", "x": 210, "y": 7366}, {"d": "2013-02-13", "x": 214, "y": 7480},
          {"d": "2013-06-26", "x": 218, "y": 7594}, {"d": "2013-07-03", "x": 222, "y": 7708},
          {"d": "2013-06-19", "x": 226, "y": 7822}, {"d": "2013-08-28", "x": 230, "y": 7936},
          {"d": "2013-09-04", "x": 234, "y": 8050}, {"d": "2013-08-21", "x": 238, "y": 8164},
          {"d": "2013-09-11", "x": 242, "y": 8278},
          {"d": "2012-01-18", "x": 160, "y": 6241}, {"d": "2012-02-08", "x": 172, "y": 6583},
          {"d": "2012-03-14", "x": 184, "y": 6925}, {"d": "2012-09-19", "x": 196, "y": 7267},
          {"d": "2013-01-09", "x": 208, "y": 7609}, {"d": "2013-03-13", "x": 220, "y": 7951},
          {"d": "2013-05-15", "x": 232, "y": 8293}
        ]
      },
      "mark": {"type": "circle", "size": 80, "opacity": 1, "stroke": "black", "strokeWidth": 1},
      "encoding": {
        "x": {
          "field": "x",
          "type": "quantitative",
          "scale": {"domain": [100, 300], "nice": false, "zero": false},
          "axis": {"values": [100, 150, 200, 250, 300], "title": "PCA\u00a0 5", "labelPadding": 13, "titlePadding": 11}
        },
        "y": {
          "field": "y",
          "type": "quantitative",
          "scale": {"domain": [4000, 11000], "nice": false, "zero": false},
          "axis": {"values": [4000, 5000, 6000, 7000, 8000, 9000, 10000, 11000], "format": "d", "title": "^GDAXI", "labelPadding": 16, "titlePadding": 7}
        },
        "order": {"field": "d", "type": "quantitative"},
        "color": {
          "field": "d",
          "type": "quantitative",
          "scale": {
            "interpolate": "rgb",
            "zero": false,
            "nice": false,
            "domain": [1261612800000, 1278201600000, 1312934400000, 1318204800000, 1358121600000, 1361145600000, 1395878400000, 1398902400000, 1412467200000],
            "range": ["#000080", "#0000ff", "#00dbff", "#14ffe2", "#eeff08", "#ffec00", "#ff1300", "#e80000", "#800000"]
          },
          "legend": {
            "title": null,
            "values": [1265673600000, 1287273600000, 1308873600000, 1330473600000, 1352073600000, 1373673600000, 1395273600000],
            "labelExpr": "utcFormat(datum.value, '%d %b %y')"
          }
        }
      }
    },
    {
      "data": {"values": [{"x": 123, "y": 5415}, {"x": 277.3, "y": 9730}]},
      "mark": {"type": "line", "color": "#e8231e", "strokeWidth": 6.5, "strokeCap": "round"},
      "encoding": {
        "x": {"field": "x", "type": "quantitative"},
        "y": {"field": "y", "type": "quantitative"}
      }
    }
  ]
}
